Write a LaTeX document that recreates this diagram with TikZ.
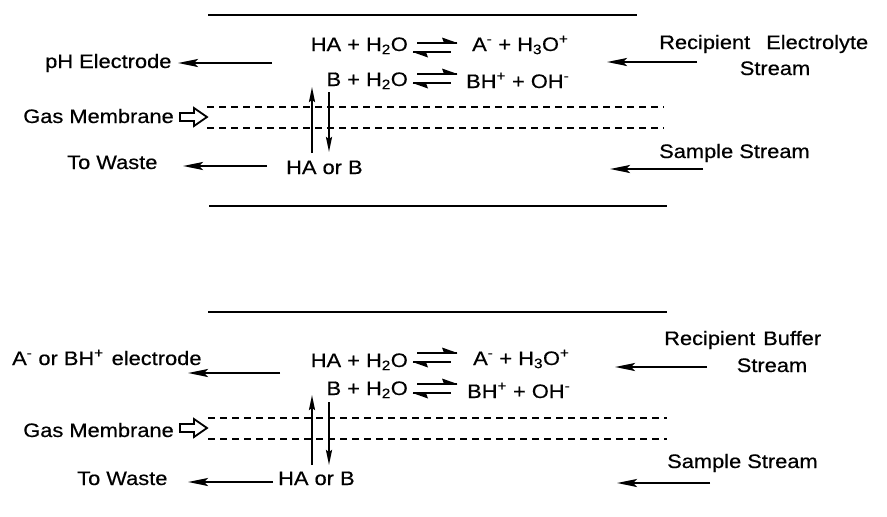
\documentclass[tikz,border=0pt]{standalone}
\usepackage{fontspec}
\setmainfont{Liberation Sans}[FakeStretch=1.12,FakeBold=0.5]
\usetikzlibrary{arrows.meta}

\begin{document}
\begin{tikzpicture}[x=1pt,y=-1pt,
  lbl/.style={inner sep=0pt, font=\fontsize{19.5}{23}\selectfont},
  wall/.style={line width=2.6pt},
  membrane/.style={line width=2pt, dash pattern=on 7pt off 5pt},
  flow/.style={line width=2.2pt, -{Stealth[length=20pt,width=8pt,inset=4pt]}},
  transfer/.style={line width=2pt, -{Stealth[length=15pt,width=6pt,inset=2pt]}},
  harpoon/.style={line width=2.2pt},
  equil/.pic={
    \draw[harpoon] (4,0) -- (44,0);
    \fill (44.5,0) -- (29,-5.5) -- (31,0) -- cycle;
    \draw[harpoon] (0,9) -- (38,9);
    \fill (-0.5,9) -- (15,14.5) -- (13,9) -- cycle;
  },
  hollowarrow/.pic={
    \draw[line width=1.8pt, line join=miter]
      (0,-4) -- (14,-4) -- (14,-9) -- (27,0) -- (14,9) -- (14,4) -- (0,4) -- cycle;
  },
]
\path[use as bounding box] (0,0) rectangle (887,517);

% ---------------- upper cell: pH electrode ----------------
\draw[wall] (208,15) -- (637,15);
\draw[wall] (209,206) -- (667,206);
\draw[membrane] (207,107) -- (664,107);
\draw[membrane] (207,128) -- (664,128);

\node[lbl, anchor=base east] (eqAl) at (408,51) {HA + H\textsubscript{2}O};
\pic at (413,43) {equil};
\node[lbl, anchor=base west] (eqAr) at (472,51) {A\textsuperscript{-} + H\textsubscript{3}O\textsuperscript{+}};
\node[lbl, anchor=base east] (eqBl) at (408,86) {B + H\textsubscript{2}O};
\pic at (413,74) {equil};
\node[lbl, anchor=base west] (eqBr) at (466,88) {BH\textsuperscript{+} + OH\textsuperscript{-}};

\node[lbl, anchor=base west] (pH) at (45,68) {pH Electrode};
\coordinate (pHsrc) at (272,63);
\coordinate (pHtip) at (178,63);
\draw[flow] (pHsrc) -- (pHtip);

\node[lbl, anchor=base east] (gasA) at (174,123) {Gas Membrane};
\pic at (180,117) {hollowarrow};

\coordinate (upAlo) at (312,153);
\coordinate (upAhi) at (312,87);
\coordinate (dnAhi) at (329,92);
\coordinate (dnAlo) at (329,152);
\draw[transfer] (upAlo) -- (upAhi);
\draw[transfer] (dnAhi) -- (dnAlo);

\node[lbl, anchor=base west] (haA) at (286,174) {HA or B};
\node[lbl, anchor=base west] (wasteA) at (67,169) {To Waste};
\coordinate (wAsrc) at (267,166);
\coordinate (wAtip) at (183,166);
\draw[flow] (wAsrc) -- (wAtip);

\node[lbl, anchor=base west] (recA) at (659,49) {Recipient\hspace{16pt}Electrolyte};
\node[lbl, anchor=base] (recAs) at (775,75) {Stream};
\coordinate (rAsrc) at (697,62);
\coordinate (rAtip) at (607,62);
\draw[flow] (rAsrc) -- (rAtip);

\node[lbl, anchor=base west] (smpA) at (659,158) {Sample Stream};
\coordinate (sAsrc) at (703,169);
\coordinate (sAtip) at (610,169);
\draw[flow] (sAsrc) -- (sAtip);

% ---------------- lower cell: ion-selective electrode ----------------
\draw[wall] (208,312) -- (667,312);
\draw[membrane] (208,418) -- (667,418);
\draw[membrane] (208,439) -- (667,439);

\node[lbl, anchor=base east] (eqCl) at (408,367) {HA + H\textsubscript{2}O};
\pic at (413,353) {equil};
\node[lbl, anchor=base west] (eqCr) at (473,365) {A\textsuperscript{-} + H\textsubscript{3}O\textsuperscript{+}};
\node[lbl, anchor=base east] (eqDl) at (408,395) {B + H\textsubscript{2}O};
\pic at (413,384) {equil};
\node[lbl, anchor=base west] (eqDr) at (467,398) {BH\textsuperscript{+} + OH\textsuperscript{-}};

\node[lbl, anchor=base west] (ise) at (12,365) {A\textsuperscript{-} or BH\textsuperscript{+}\hspace{8pt}electrode};
\coordinate (iseSrc) at (280,373);
\coordinate (iseTip) at (188,373);
\draw[flow] (iseSrc) -- (iseTip);

\node[lbl, anchor=base east] (gasB) at (174,437) {Gas Membrane};
\pic at (180,428) {hollowarrow};

\coordinate (upBlo) at (312,465);
\coordinate (upBhi) at (312,395);
\coordinate (dnBhi) at (329,402);
\coordinate (dnBlo) at (329,465);
\draw[transfer] (upBlo) -- (upBhi);
\draw[transfer] (dnBhi) -- (dnBlo);

\node[lbl, anchor=base west] (haB) at (278,485) {HA or B};
\node[lbl, anchor=base west] (wasteB) at (77,485) {To Waste};
\coordinate (wBsrc) at (273,482);
\coordinate (wBtip) at (188,482);
\draw[flow] (wBsrc) -- (wBtip);

\node[lbl, anchor=base west] (recB) at (664,345) {Recipient\hspace{8pt}Buffer};
\node[lbl, anchor=base] (recBs) at (772,372) {Stream};
\coordinate (rBsrc) at (707,367);
\coordinate (rBtip) at (615,367);
\draw[flow] (rBsrc) -- (rBtip);

\node[lbl, anchor=base west] (smpB) at (667,468) {Sample Stream};
\coordinate (sBsrc) at (710,483);
\coordinate (sBtip) at (617,483);
\draw[flow] (sBsrc) -- (sBtip);
\end{tikzpicture}
\end{document}
